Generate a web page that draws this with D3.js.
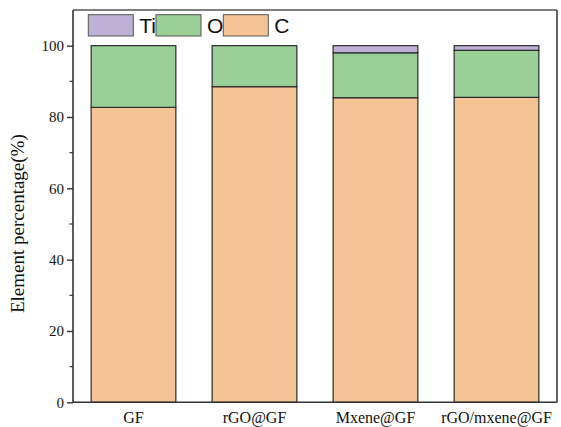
<!DOCTYPE html>
<html>
<head>
<meta charset="utf-8">
<script src="https://cdn.jsdelivr.net/npm/d3@7/dist/d3.min.js"></script>
<style>
  html, body { margin: 0; padding: 0; background: #fff; }
  svg { display: block; }
</style>
</head>
<body>
<svg id="chart" width="561" height="427"></svg>
<script>
// Sample names along the x axis
const samples = ["GF", "rGO@GF", "Mxene@GF", "rGO/mxene@GF"];
// Element percentages per sample
const carbon   = [82.7, 88.5, 85.4, 85.5];
const oxygen   = [17.3, 11.5, 12.6, 13.2];
const titanium = [0.0, 0.0, 2.0, 1.3];
// Stack order from bottom to top
const elements = ["C", "O", "Ti"];
const legendOrder = ["Ti", "O", "C"];
const colors = { C: "#f5c495", O: "#9acf98", Ti: "#bfb0d5" };
const yTicks = [0, 20, 40, 60, 80, 100];
const yMinorTicks = [10, 30, 50, 70, 90];

const rows = samples.map((s, i) => ({ sample: s, C: carbon[i], O: oxygen[i], Ti: titanium[i] }));

const svg = d3.select("#chart");
const margin = { left: 73, right: 4, top: 10, bottom: 25 };
const W = 561, H = 427;
const x0 = margin.left, x1 = W - margin.right;
const y0 = 402.3, y1 = margin.top;

const x = d3.scaleBand().domain(samples).range([x0, x1]).paddingInner(0.3).paddingOuter(0.15);
const y = d3.scaleLinear().domain([0, 110]).range([y0, y1]);

const stacked = d3.stack().keys(elements)(rows);

// bars
svg.append("g").selectAll("g")
  .data(stacked)
  .join("g")
  .attr("fill", d => colors[d.key])
  .selectAll("rect")
  .data(d => d.filter(p => p[1] - p[0] > 0))
  .join("rect")
  .attr("x", d => x(d.data.sample))
  .attr("width", x.bandwidth())
  .attr("y", d => y(d[1]))
  .attr("height", d => y(d[0]) - y(d[1]))
  .attr("stroke", "#2b2b2b")
  .attr("stroke-width", 1.2);

// frame: top and right
svg.append("line").attr("x1", x0).attr("x2", x1).attr("y1", y1).attr("y2", y1)
  .attr("stroke", "#555").attr("stroke-width", 1.6);
svg.append("line").attr("x1", x1).attr("x2", x1).attr("y1", y1).attr("y2", y0)
  .attr("stroke", "#555").attr("stroke-width", 1.8);

// y axis
const yAxis = svg.append("g").attr("transform", `translate(${x0},0)`)
  .call(d3.axisLeft(y).tickValues(yTicks).tickSize(6).tickPadding(3));
yAxis.select(".domain").attr("stroke", "#333").attr("stroke-width", 1.6).attr("d", `M0,${y0}V${y1}`);
yAxis.selectAll(".tick line").attr("stroke", "#333").attr("stroke-width", 1.4);
yAxis.selectAll("text").attr("font-family", "'Liberation Serif', 'Times New Roman', serif")
  .attr("font-size", 15).attr("fill", "#111");
yAxis.append("g").selectAll("line").data(yMinorTicks).join("line")
  .attr("x1", 0).attr("x2", -3.5).attr("y1", d => y(d)).attr("y2", d => y(d))
  .attr("stroke", "#333").attr("stroke-width", 1.2);

// x axis
const xAxis = svg.append("g").attr("transform", `translate(0,${y0})`)
  .call(d3.axisBottom(x).tickSize(0).tickPadding(9));
xAxis.select(".domain").attr("stroke", "#333").attr("stroke-width", 1.6).attr("d", `M${x0},0H${x1}`);
xAxis.selectAll("text").attr("font-family", "'Liberation Serif', 'Times New Roman', serif")
  .attr("font-size", 16).attr("fill", "#111");

// y axis title
svg.append("text")
  .attr("transform", `translate(24,${(y0 + 45) / 2}) rotate(-90)`)
  .attr("text-anchor", "middle")
  .attr("font-family", "'Liberation Serif', 'Times New Roman', serif")
  .attr("font-size", 19).attr("fill", "#111")
  .text("Element percentage(%)");

// legend
const legendX = [88.3, 156, 223.3];
const lg = svg.append("g").selectAll("g").data(legendOrder).join("g")
  .attr("transform", (d, i) => `translate(${legendX[i]},14.7)`);
lg.append("rect").attr("width", 45).attr("height", 21.3)
  .attr("fill", d => colors[d]).attr("stroke", "#555").attr("stroke-width", 1);
lg.append("text").attr("x", 51).attr("y", 18.5)
  .attr("font-family", "'Liberation Sans', Arial, sans-serif")
  .attr("font-size", 21).attr("fill", "#111")
  .text(d => d);
</script>
</body>
</html>
